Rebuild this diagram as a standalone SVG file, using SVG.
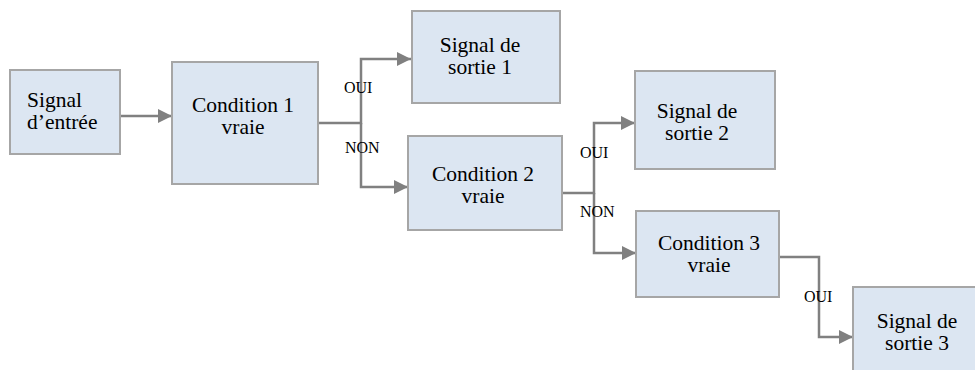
<svg xmlns="http://www.w3.org/2000/svg" width="975" height="370" viewBox="0 0 975 370">
<style>
.box{fill:#dce6f2;stroke:#a6a6a6;stroke-width:2}
text{font-family:'Liberation Serif','DejaVu Serif',serif;fill:#000}
.t{font-size:21.5px}
.c{text-anchor:middle}
.lbl{font-size:16px}
.con{fill:none;stroke:#808080;stroke-width:2.5}
</style>
<defs>
<marker id="arr" markerUnits="userSpaceOnUse" viewBox="0 0 14 14" refX="14" refY="7" markerWidth="14" markerHeight="14" orient="auto">
<path d="M0,0 L14,7 L0,14 z" fill="#808080"/>
</marker>
</defs>
<g id="connectors">
<path class="con" d="M120,116 H172" marker-end="url(#arr)"/>
<path class="con" d="M318,123 H361 V59 H411" marker-end="url(#arr)"/>
<path class="con" d="M361,123 V187 H408" marker-end="url(#arr)"/>
<path class="con" d="M562,193 H594 V123 H635" marker-end="url(#arr)"/>
<path class="con" d="M594,193 V253 H636" marker-end="url(#arr)"/>
<path class="con" d="M779,257 H819 V337 H853" marker-end="url(#arr)"/>
<text class="lbl" x="344" y="93">OUI</text>
<text class="lbl" x="345" y="153">NON</text>
<text class="lbl" x="580" y="158">OUI</text>
<text class="lbl" x="580" y="217">NON</text>
<text class="lbl" x="804" y="302">OUI</text>
</g>
<g id="input">
<rect class="box" x="10" y="70" width="110" height="84"/>
<text class="t" x="27" y="107">Signal</text>
<text class="t" x="27" y="129">d’entrée</text>
</g>
<g id="cond1">
<rect class="box" x="172" y="62" width="146" height="122"/>
<text class="t c" x="243" y="112">Condition 1</text>
<text class="t c" x="243" y="134">vraie</text>
</g>
<g id="out1">
<rect class="box" x="412" y="11" width="148" height="92"/>
<text class="t c" x="480" y="52">Signal de</text>
<text class="t c" x="480" y="74">sortie 1</text>
</g>
<g id="cond2">
<rect class="box" x="408" y="136" width="154" height="94"/>
<text class="t c" x="483" y="181">Condition 2</text>
<text class="t c" x="483" y="203">vraie</text>
</g>
<g id="out2">
<rect class="box" x="635" y="71" width="140" height="98"/>
<text class="t c" x="697" y="118">Signal de</text>
<text class="t c" x="697" y="140">sortie 2</text>
</g>
<g id="cond3">
<rect class="box" x="636" y="211" width="143" height="86"/>
<text class="t c" x="709" y="250">Condition 3</text>
<text class="t c" x="709" y="272">vraie</text>
</g>
<g id="out3">
<rect class="box" x="853" y="287" width="130" height="100"/>
<text class="t c" x="917" y="328">Signal de</text>
<text class="t c" x="917" y="350">sortie 3</text>
</g>
</svg>
